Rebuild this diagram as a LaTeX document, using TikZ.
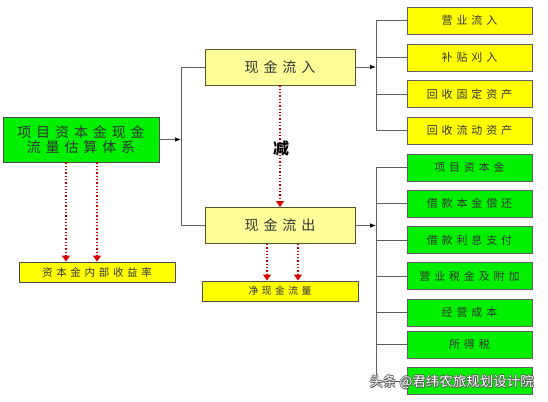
\documentclass[tikz,border=0pt]{standalone}
\usepackage{fontspec}
\setmainfont{Liberation Serif}
\newfontfamily\cjk[LetterSpace=35]{Noto Sans CJK SC}
\newfontfamily\cjkplain{Noto Sans CJK SC}
\usetikzlibrary{arrows.meta}
\definecolor{lyel}{HTML}{FFFF99}
\definecolor{byel}{HTML}{FFFF00}
\definecolor{bgreen}{HTML}{00F000}
\definecolor{lnc}{HTML}{606060}
\definecolor{redd}{HTML}{C00000}
\tikzset{
  box/.style={draw=lnc, line width=0.9pt, inner sep=0pt, align=center, text=black!80},
  lbox/.style={box, fill=lyel, draw=lnc!70!yellow!60!black, minimum width=150pt, minimum height=36pt, font=\cjk\fontsize{14}{16}\selectfont},
  ybox/.style={box, fill=byel, minimum width=125pt, minimum height=27pt, font=\cjk\fontsize{11}{12}\selectfont},
  gbox/.style={box, fill=bgreen, minimum width=125pt, minimum height=27pt, font=\cjk\fontsize{11}{12}\selectfont},
  conn/.style={draw=lnc, line width=0.8pt},
  carrow/.style={conn, -{Latex[length=6pt,width=4.5pt,color=black]}},
  red/.style={draw=redd, line width=1.3pt, dotted, -{Triangle[width=8pt,length=6pt,color=red!85!black]}},
}
\begin{document}
\begin{tikzpicture}[x=1pt,y=-1pt]
\useasboundingbox[fill=white] (0,0) rectangle (548,401);
% main
\node[box, fill=bgreen, draw=black!70, minimum width=156pt, minimum height=45pt, font=\cjk\fontsize{14}{15.5}\selectfont] (main) at (81,139.5) {项目资本金现金\\流量估算体系};
\node[lbox] (in) at (280,67) {现金流入};
\node[lbox] (out) at (280,225.5) {现金流出};
\node[box, fill=byel, draw=black!70, minimum width=156pt, minimum height=20pt, font=\cjk\fontsize{10.5}{11}\selectfont] (irr) at (97,272) {资本金内部收益率};
\node[box, fill=byel, draw=black!70, minimum width=156pt, minimum height=20pt, font=\cjk\fontsize{9.8}{11}\selectfont] (net) at (280,291) {净现金流量};
% right yellow
\node[ybox] (y1) at (469.5,20.5) {营业流入};
\node[ybox] (y2) at (469.5,57.5) {补贴刈入};
\node[ybox] (y3) at (469.5,94) {回收固定资产};
\node[ybox] (y4) at (469.5,130.5) {回收流动资产};
% right green
\node[gbox] (g1) at (469.5,167.5) {项目资本金};
\node[gbox] (g2) at (469.5,203.5) {借款本金偿还};
\node[gbox] (g3) at (469.5,240) {借款利息支付};
\node[gbox] (g4) at (469.5,276) {营业税金及附加};
\node[gbox] (g5) at (469.5,312.5) {经营成本};
\node[gbox] (g6) at (469.5,344.5) {所得税};
\node[gbox] (g7) at (469.5,381) {};
% left spine
\coordinate (sl) at (181,139.5);
\coordinate (slt) at (181,67);
\coordinate (slb) at (181,225.5);
\draw[carrow] (main.east) -- (sl);
\draw[conn] (slt) -- (slb);
\draw[conn] (slt) -- (in.west);
\draw[conn] (slb) -- (out.west);
% right spines
\coordinate (sr1) at (376,67);
\coordinate (sr2) at (376,225.5);
\draw[carrow] (in.east) -- (sr1);
\draw[carrow] (out.east) -- (sr2);
\draw[conn] (y1.west) -| (376,20.5) |- (y4.west);
\foreach \n in {y2,y3} \draw[conn] (\n.west) -- (\n.west -| sr1);
\draw[conn] (g1.west) -| (376,167.5) |- (g7.west);
\foreach \n in {g2,g3,g4,g5,g6} \draw[conn] (\n.west) -- (\n.west -| sr1);
% red dotted arrows
\draw[red] (main.south -| 66,0) -- (irr.north -| 66,0);
\draw[red] (main.south -| 97,0) -- (irr.north -| 97,0);
\draw[red] (out.south -| 267,0) -- (net.north -| 267,0);
\draw[red] (out.south -| 298,0) -- (net.north -| 298,0);
\draw[red] (in.south) -- (out.north);
\node[font=\cjkplain\bfseries\fontsize{16}{18}\selectfont, text=black] (minus) at (281,148) {减};
% watermark
\foreach \dx/\dy [count=\i] in {0.7/0, -0.7/0, 0/0.7, 0/-0.7, 0.6/0.6}
  \node[font=\cjkplain\fontsize{13.5}{15}\selectfont, text=black!65, anchor=west] (wms\i) at (366+\dx,382+\dy) {头条 @君纬农旅规划设计院};
\node[font=\cjkplain\fontsize{13.5}{15}\selectfont, text=white, anchor=west] (wm) at (366,382) {头条 @君纬农旅规划设计院};
\end{tikzpicture}
\end{document}
